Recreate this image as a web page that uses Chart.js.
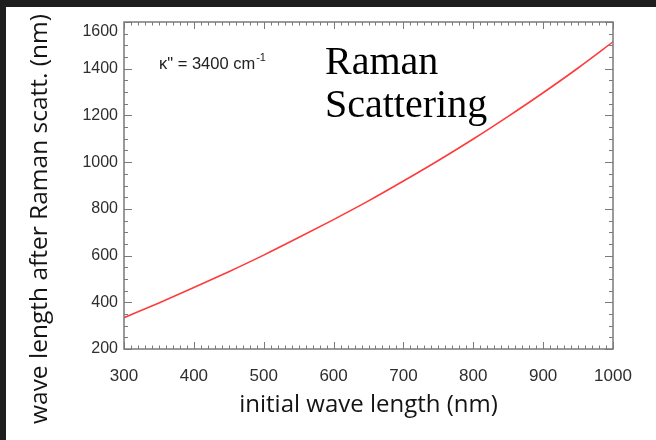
<!DOCTYPE html>
<html>
<head>
<meta charset="utf-8">
<script src="https://cdn.jsdelivr.net/npm/chart.js@4"></script>
<style>
html,body{margin:0;padding:0;background:#1e1e1e;width:656px;height:440px;overflow:hidden;}
#wrap{position:absolute;left:6px;top:7px;width:650px;height:433px;background:#fff;}
canvas{display:block;}
</style>
</head>
<body>
<div id="wrap"><canvas id="c" width="650" height="433"></canvas></div>
<script>
// initial wavelength (nm)
const initialWavelength = [300, 350, 400, 450, 500, 550, 600, 650, 700, 750, 800, 850, 900, 950, 1000];
// wavelength after Raman scattering (nm)
const ramanWavelength = [334, 397, 463, 531, 602, 677, 754, 834, 919, 1007, 1099, 1196, 1297, 1403, 1515];
const xTicks = [300, 400, 500, 600, 700, 800, 900, 1000];
const yTicks = [200, 400, 600, 800, 1000, 1200, 1400, 1600];
const xTitle = 'initial wave length (nm)';
const yTitle = 'wave length after Raman scatt. (nm)';
const annotationMain = ['Raman', 'Scattering'];
const annotationKappa = 'κ" = 3400 cm';
const annotationKappaSup = '-1';

const points = initialWavelength.map((x, i) => ({x: x, y: ramanWavelength[i]}));

const framePlugin = {
  id: 'frame',
  afterDraw(chart) {
    const ctx = chart.ctx;
    const a = chart.chartArea;
    const xs = chart.scales.x, ys = chart.scales.y;
    ctx.save();
    ctx.strokeStyle = '#7a7a7a';
    ctx.lineWidth = 1.5;
    ctx.strokeRect(a.left, a.top, a.right - a.left, a.bottom - a.top);
    ctx.lineWidth = 1;
    ctx.beginPath();
    for (let v = xTicks[0]; v <= xTicks[xTicks.length - 1] + 0.001; v += 10) {
      const px = Math.round(xs.getPixelForValue(v)) + 0.5;
      const major = Math.abs(v % 100) < 0.001;
      const L = major ? 7 : 3.5;
      ctx.moveTo(px, a.bottom); ctx.lineTo(px, a.bottom - L);
      ctx.moveTo(px, a.top); ctx.lineTo(px, a.top + L);
    }
    for (let v = yTicks[0]; v <= yTicks[yTicks.length - 1] + 0.001; v += 50) {
      const py = Math.round(ys.getPixelForValue(v)) + 0.5;
      const major = Math.abs(v % 200) < 0.001;
      const L = major ? 8 : 4;
      ctx.moveTo(a.left, py); ctx.lineTo(a.left + L, py);
      ctx.moveTo(a.right, py); ctx.lineTo(a.right - L, py);
    }
    ctx.stroke();

    // axis titles
    ctx.fillStyle = '#141414';
    ctx.textAlign = 'center';
    ctx.textBaseline = 'middle';
    ctx.font = '24px "Open Sans"';
    ctx.fillText(xTitle, (a.left + a.right) / 2, 398);
    ctx.save();
    ctx.translate(34, 212);
    ctx.rotate(-Math.PI / 2);
    ctx.font = '24.5px "Open Sans"';
    ctx.fillText(yTitle, 0, 0);
    ctx.restore();

    // annotations
    ctx.textAlign = 'left';
    ctx.textBaseline = 'alphabetic';
    ctx.fillStyle = '#000';
    ctx.font = '40px "Liberation Serif"';
    ctx.fillText(annotationMain[0], 319, 67);
    ctx.fillText(annotationMain[1], 319, 110);

    ctx.fillStyle = '#222';
    ctx.font = '16.5px "Liberation Sans"';
    ctx.fillText(annotationKappa, 153, 62);
    const w = ctx.measureText(annotationKappa).width;
    ctx.font = '11px "Liberation Sans"';
    ctx.fillText(annotationKappaSup, 153 + w + 1, 54);
    ctx.restore();
  }
};

const plainLabel = v => String(v);
// top label sits just below the frame corner, as in the reference
const yLabel = v => (v === yTicks[yTicks.length - 1] ? ['', String(v)] : String(v));

new Chart(document.getElementById('c'), {
  type: 'line',
  data: {
    datasets: [{
      data: points,
      borderColor: '#ff3b3b',
      borderWidth: 1.6,
      pointRadius: 0,
      fill: false,
      cubicInterpolationMode: 'monotone'
    }]
  },
  options: {
    responsive: false,
    animation: false,
    devicePixelRatio: 1,
    layout: {padding: {left: 0, right: 43, top: 15, bottom: 0}},
    plugins: {legend: {display: false}, tooltip: {enabled: false}, title: {display: false}},
    scales: {
      x: {
        type: 'linear',
        min: xTicks[0], max: xTicks[xTicks.length - 1],
        afterBuildTicks(s) { s.ticks = xTicks.map(v => ({value: v})); },
        afterFit(s) { s.height = 91; },
        grid: {display: false, drawTicks: false},
        border: {display: false},
        ticks: {color: '#2e2e2e', font: {family: 'Liberation Sans', size: 17}, padding: 17, maxRotation: 0, callback: plainLabel}
      },
      y: {
        type: 'linear',
        min: yTicks[0], max: yTicks[yTicks.length - 1],
        afterBuildTicks(s) { s.ticks = yTicks.map(v => ({value: v})); },
        afterFit(s) { s.width = 118; s.paddingTop = 0; s.paddingBottom = 0; },
        grid: {display: false, drawTicks: false},
        border: {display: false},
        ticks: {color: '#2e2e2e', font: {family: 'Liberation Sans', size: 16}, padding: 6, callback: yLabel}
      }
    }
  },
  plugins: [framePlugin]
});
</script>
</body>
</html>
